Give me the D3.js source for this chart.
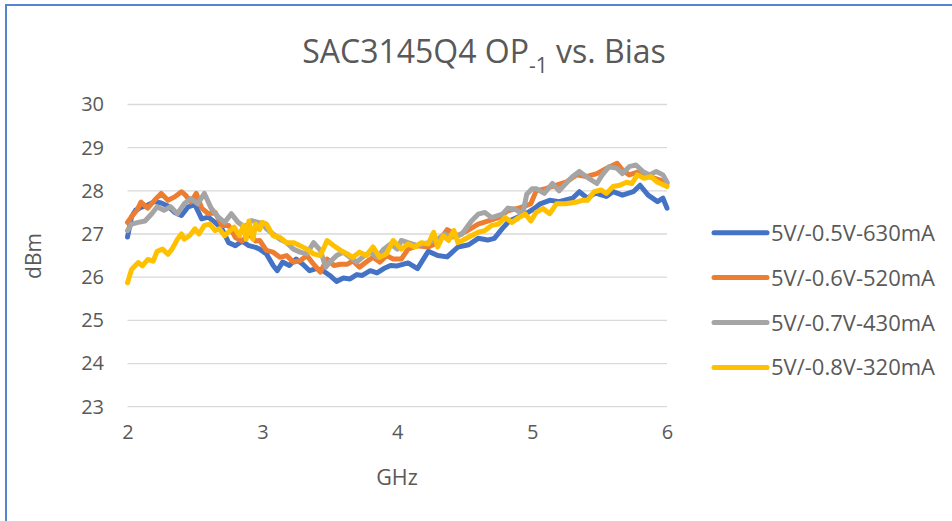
<!DOCTYPE html>
<meta charset="utf-8">
<script src="https://d3js.org/d3.v7.min.js"></script>
<style>
  body { margin: 0; background: #fff; }
  text { font-family: "Open Sans", sans-serif; fill: #595959; }
</style>
<body>
<div id="chart"></div>
<script>

// series names + colours
var seriesNames = ["5V/-0.5V-630mA", "5V/-0.6V-520mA", "5V/-0.7V-430mA", "5V/-0.8V-320mA"];
var seriesColors = ["#4472C4", "#ED7D31", "#A5A5A5", "#FFC000"];

var xTicks = [2, 3, 4, 5, 6];
var yTicks = [23, 24, 25, 26, 27, 28, 29, 30];

// [GHz, dBm]
var bias05 = [[2.00,26.93],[2.03,27.4],[2.06,27.55],[2.1,27.62],[2.15,27.67],[2.2,27.75],[2.25,27.72],[2.3,27.65],[2.35,27.5],[2.4,27.43],[2.45,27.63],[2.5,27.68],[2.55,27.35],[2.6,27.39],[2.65,27.27],[2.7,27.12],[2.75,26.8],[2.8,26.73],[2.85,26.84],[2.9,26.73],[2.95,26.69],[2.98,26.65],[3.03,26.54],[3.08,26.27],[3.11,26.15],[3.15,26.35],[3.2,26.27],[3.25,26.42],[3.3,26.3],[3.35,26.15],[3.4,26.2],[3.45,26.15],[3.5,26.04],[3.55,25.9],[3.6,25.98],[3.65,25.96],[3.7,26.06],[3.74,26.04],[3.8,26.15],[3.85,26.1],[3.9,26.2],[3.95,26.27],[4.0,26.26],[4.08,26.33],[4.15,26.2],[4.23,26.6],[4.3,26.5],[4.37,26.47],[4.45,26.7],[4.53,26.75],[4.6,26.9],[4.67,26.86],[4.72,26.9],[4.78,27.13],[4.83,27.3],[4.9,27.4],[4.97,27.5],[5.02,27.6],[5.06,27.7],[5.13,27.78],[5.2,27.75],[5.3,27.83],[5.35,27.98],[5.41,27.83],[5.47,27.95],[5.55,27.87],[5.6,27.98],[5.67,27.9],[5.75,27.98],[5.8,28.13],[5.86,27.9],[5.93,27.75],[5.97,27.83],[6.0,27.6]];

var bias06 = [[2.0,27.27],[2.03,27.4],[2.07,27.55],[2.1,27.74],[2.15,27.6],[2.2,27.78],[2.25,27.94],[2.3,27.78],[2.35,27.86],[2.4,27.98],[2.43,27.9],[2.47,27.74],[2.51,27.94],[2.55,27.6],[2.6,27.47],[2.65,27.5],[2.7,27.2],[2.75,27.2],[2.8,26.92],[2.85,26.84],[2.9,27.0],[2.95,26.84],[2.98,26.85],[3.03,26.62],[3.08,26.58],[3.13,26.46],[3.18,26.5],[3.23,26.35],[3.28,26.38],[3.33,26.5],[3.38,26.3],[3.43,26.12],[3.48,26.42],[3.53,26.27],[3.58,26.3],[3.63,26.3],[3.67,26.38],[3.72,26.23],[3.77,26.35],[3.82,26.46],[3.87,26.35],[3.92,26.5],[3.97,26.42],[4.03,26.42],[4.08,26.65],[4.15,26.73],[4.23,26.7],[4.3,26.8],[4.37,27.1],[4.45,26.96],[4.52,27.08],[4.6,27.23],[4.67,27.3],[4.75,27.38],[4.82,27.54],[4.9,27.6],[4.95,27.65],[4.99,27.7],[5.03,28.0],[5.1,28.05],[5.18,28.13],[5.25,28.2],[5.33,28.37],[5.4,28.33],[5.48,28.4],[5.55,28.52],[5.63,28.64],[5.67,28.48],[5.72,28.37],[5.8,28.45],[5.87,28.33],[5.95,28.25],[6.0,28.17]];

var bias07 = [[2.0,27.08],[2.03,27.23],[2.08,27.27],[2.13,27.3],[2.18,27.47],[2.22,27.63],[2.27,27.55],[2.32,27.63],[2.37,27.47],[2.42,27.7],[2.47,27.82],[2.52,27.7],[2.57,27.94],[2.62,27.6],[2.67,27.4],[2.72,27.27],[2.77,27.47],[2.82,27.27],[2.87,27.16],[2.92,27.31],[2.97,27.27],[3.0,27.25],[3.03,27.12],[3.08,27.0],[3.13,26.88],[3.18,26.8],[3.23,26.65],[3.28,26.58],[3.33,26.54],[3.38,26.8],[3.43,26.62],[3.47,26.23],[3.5,26.35],[3.55,26.5],[3.6,26.58],[3.65,26.46],[3.7,26.35],[3.74,26.46],[3.8,26.58],[3.85,26.46],[3.9,26.65],[3.95,26.77],[4.0,26.65],[4.03,26.85],[4.08,26.8],[4.15,26.73],[4.23,26.8],[4.3,26.88],[4.35,27.0],[4.4,26.92],[4.48,27.0],[4.55,27.3],[4.6,27.46],[4.65,27.5],[4.7,27.38],[4.78,27.46],[4.82,27.6],[4.87,27.58],[4.93,27.46],[4.96,27.92],[5.0,28.05],[5.03,28.05],[5.09,27.94],[5.15,28.17],[5.2,28.0],[5.25,28.17],[5.3,28.33],[5.35,28.45],[5.4,28.33],[5.48,28.17],[5.52,28.37],[5.57,28.56],[5.63,28.52],[5.67,28.4],[5.72,28.56],[5.77,28.6],[5.82,28.45],[5.87,28.37],[5.92,28.45],[5.97,28.37],[6.0,28.2]];

var bias08 = [[2.0,25.87],[2.03,26.18],[2.08,26.34],[2.11,26.26],[2.15,26.41],[2.19,26.37],[2.22,26.6],[2.26,26.65],[2.3,26.53],[2.33,26.65],[2.37,26.88],[2.4,27.0],[2.42,26.88],[2.46,26.96],[2.5,27.12],[2.53,27.0],[2.57,27.2],[2.61,27.23],[2.65,27.08],[2.68,27.12],[2.72,26.96],[2.76,27.08],[2.79,27.16],[2.83,26.96],[2.86,27.2],[2.88,26.88],[2.9,27.3],[2.93,26.88],[2.95,27.23],[2.98,27.1],[3.0,27.27],[3.03,27.23],[3.08,26.96],[3.13,26.92],[3.18,26.8],[3.23,26.8],[3.28,26.73],[3.33,26.65],[3.38,26.54],[3.43,26.5],[3.48,26.85],[3.53,26.73],[3.58,26.62],[3.63,26.54],[3.67,26.46],[3.72,26.58],[3.77,26.5],[3.82,26.7],[3.87,26.46],[3.92,26.54],[3.97,26.85],[4.03,26.65],[4.08,26.77],[4.13,26.7],[4.18,26.8],[4.23,26.77],[4.27,27.04],[4.3,26.7],[4.34,26.96],[4.38,26.85],[4.42,27.08],[4.45,26.8],[4.5,26.88],[4.55,26.96],[4.6,27.04],[4.65,27.08],[4.7,27.2],[4.75,27.23],[4.8,27.38],[4.85,27.27],[4.9,27.38],[4.95,27.46],[4.99,27.3],[5.03,27.5],[5.08,27.59],[5.13,27.47],[5.18,27.7],[5.25,27.7],[5.33,27.74],[5.37,27.78],[5.41,27.78],[5.46,27.98],[5.51,28.02],[5.55,27.94],[5.6,28.1],[5.65,28.13],[5.7,28.2],[5.74,28.17],[5.78,28.37],[5.83,28.29],[5.88,28.33],[5.93,28.2],[5.98,28.13],[6.0,28.1]];

var allSeries = [bias05, bias06, bias07, bias08];

var width = 952, height = 521;

var svg = d3.select("#chart")
  .append("svg")
    .attr("width", width)
    .attr("height", height);

// chart area border (Excel frame, cut off right/bottom)
svg.append("rect")
  .attr("x", 6).attr("y", 5)
  .attr("width", 1000).attr("height", 1000)
  .attr("fill", "none")
  .attr("stroke", "#5585CC")
  .attr("stroke-width", 2);

var x = d3.scaleLinear().domain([2, 6]).range([127.5, 667]);
var y = d3.scaleLinear().domain([23, 30]).range([406.7, 104.5]);

// gridlines
svg.append("g")
  .selectAll("line")
  .data(yTicks)
  .enter()
  .append("line")
    .attr("x1", x(2)).attr("x2", x(6))
    .attr("y1", function(d) { return y(d); })
    .attr("y2", function(d) { return y(d); })
    .attr("stroke", "#D9D9D9")
    .attr("stroke-width", 1.3);

// y axis labels
var yAxis = d3.axisLeft(y).tickValues(yTicks).tickSize(0).tickPadding(0).tickFormat(d3.format("d"));
svg.append("g")
  .attr("transform", "translate(104,0)")
  .call(yAxis)
  .call(function(g) { g.select(".domain").remove(); })
  .selectAll("text")
    .style("font-family", "Open Sans")
    .style("font-size", "20px")
    .attr("fill", "#595959");

// x axis labels
var xAxis = d3.axisBottom(x).tickValues(xTicks).tickSize(0).tickPadding(0).tickFormat(d3.format("d"));
svg.append("g")
  .attr("transform", "translate(0,425)")
  .call(xAxis)
  .call(function(g) { g.select(".domain").remove(); })
  .selectAll("text")
    .style("font-family", "Open Sans")
    .style("font-size", "20px")
    .attr("fill", "#595959");

// lines
var line = d3.line()
  .x(function(d) { return x(d[0]); })
  .y(function(d) { return y(d[1]); });

svg.append("g")
  .selectAll("path")
  .data(allSeries)
  .enter()
  .append("path")
    .attr("d", line)
    .attr("fill", "none")
    .attr("stroke", function(d, i) { return seriesColors[i]; })
    .attr("stroke-width", 5)
    .attr("stroke-linejoin", "round")
    .attr("stroke-linecap", "round");

// title
var title = svg.append("text")
  .attr("x", 484)
  .attr("y", 63)
  .attr("text-anchor", "middle")
  .style("font-size", "32px");
title.append("tspan").text("SAC3145Q4 OP");
title.append("tspan").attr("dy", 10).style("font-size", "21px").text("-1");
title.append("tspan").attr("dy", -10).text(" vs. Bias");

// axis titles
svg.append("text")
  .attr("x", 397).attr("y", 485)
  .attr("text-anchor", "middle")
  .style("font-size", "21.5px")
  .text("GHz");

svg.append("text")
  .attr("transform", "translate(41,256) rotate(-90)")
  .attr("text-anchor", "middle")
  .style("font-size", "21px")
  .text("dBm");

// legend
var legend = svg.append("g")
  .selectAll("g")
  .data(seriesNames)
  .enter()
  .append("g")
    .attr("transform", function(d, i) { return "translate(0," + (232.7 + i * 44.9) + ")"; });

legend.append("line")
  .attr("x1", 714).attr("x2", 767)
  .attr("stroke", function(d, i) { return seriesColors[i]; })
  .attr("stroke-width", 5)
  .attr("stroke-linecap", "round");

legend.append("text")
  .attr("x", 771)
  .attr("y", 8)
  .style("font-size", "22px")
  .text(function(d) { return d; });

</script>
</body>
